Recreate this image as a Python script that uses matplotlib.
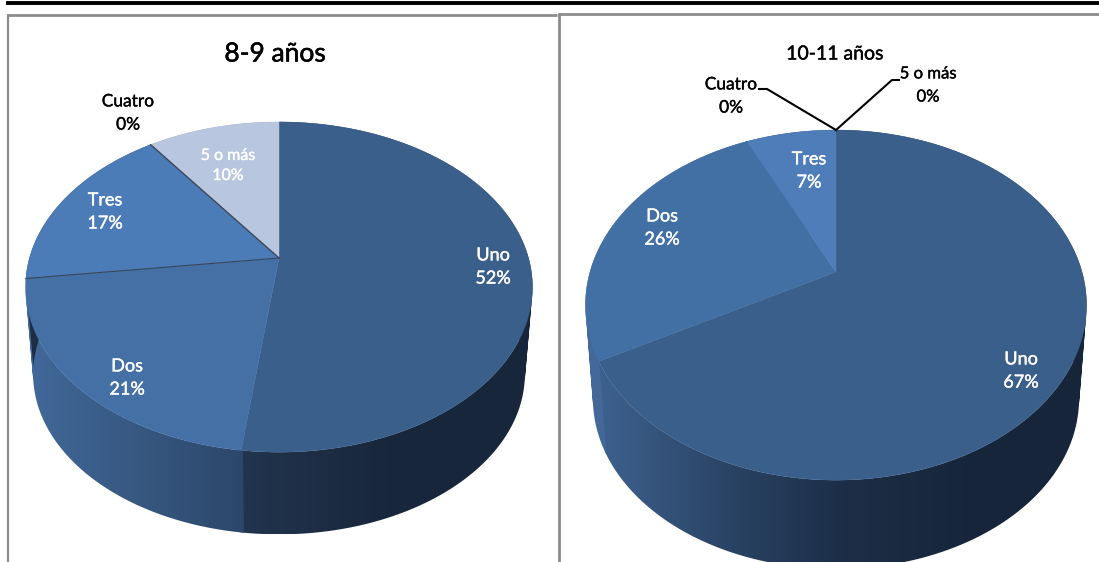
import numpy as np
import matplotlib
matplotlib.use("Agg")
import matplotlib.pyplot as plt
import matplotlib.patheffects as pe
from matplotlib.colors import LinearSegmentedColormap
from matplotlib.patches import Polygon, PathPatch
from matplotlib.path import Path

plt.rcParams['font.family'] = ['Lato', 'DejaVu Sans']

# Data
categories = ["Uno", "Dos", "Tres", "Cuatro", "5 o más"]
values_8_9 = [52, 21, 17, 0, 10]
values_10_11 = [67, 26, 7, 0, 0]
title_8_9 = "8-9 años"
title_10_11 = "10-11 años"

# Styles
top_colors_l = ["#3b5f8b", "#4470a6", "#4c7cb8", "#333333", "#b8c6df"]
top_colors_r = ["#3b5f8b", "#4270a5", "#4e7db9", "#333333", "#b8c6df"]
side_colors_l = [["#22344f", "#18273b", "#17263a"],
                 ["#41699a", "#2c4769"],
                 ["#1d2d44", "#1d2d44"],
                 ["#1d2d44", "#1d2d44"],
                 ["#8a97ad", "#8a97ad"]]
side_colors_r = [["#3d628f", "#2b4567", "#1c2e47", "#17263a", "#16253a"],
                 ["#44699a", "#3c6090"],
                 ["#1d2d44", "#1d2d44"],
                 ["#1d2d44", "#1d2d44"],
                 ["#8a97ad", "#8a97ad"]]

fig = plt.figure(figsize=(10.99, 5.62), dpi=100)
ax = fig.add_axes([0, 0, 1, 1])


def rim(theta, cx, cy, rx, ry, k, scale=1.0, dy=0.0):
    # perspective view of a circle, theta clockwise from the top
    w = 1 + k * np.cos(theta)
    x = cx + scale * rx * np.sin(theta) / w
    y = cy + dy - scale * ry * np.cos(theta) / w
    return np.column_stack([x, y])


def wall_path(upper, lower):
    # one quad per arc step, all wound the same way so the union fills solid
    quads = []
    for j in range(len(upper) - 1):
        q = np.array([upper[j], upper[j + 1], lower[j + 1], lower[j], upper[j]])
        area = np.sum(q[:-1, 0] * q[1:, 1] - q[1:, 0] * q[:-1, 1])
        if area < 0:
            q = q[::-1]
        quads.append(Path(q, closed=True))
    return Path.make_compound_path(*quads)


def draw_pie(values, cx, cy, rx, ry, k, dy, top_colors, side_colors, edges=()):
    fracs = np.array(values) / sum(values) * 2 * np.pi
    ends = np.cumsum(fracs)
    starts = ends - fracs
    # sides first, gradient running left to right
    for i in range(len(values)):
        if values[i] == 0:
            continue
        t = np.linspace(starts[i] - 0.006, ends[i] + 0.006, 200)
        upper = rim(t, cx, cy, rx, ry, k)
        lower = rim(t, cx, cy, rx, ry, k, 0.97, dy)
        pts = np.vstack([upper, lower])
        patch = PathPatch(wall_path(upper, lower), fc="none", ec="none")
        ax.add_patch(patch)
        cmap = LinearSegmentedColormap.from_list("side", side_colors[i])
        grad = np.linspace(0, 1, 256).reshape(1, -1)
        im = ax.imshow(grad, cmap=cmap, aspect="auto", zorder=2,
                       extent=[pts[:, 0].min(), pts[:, 0].max(),
                               pts[:, 1].max(), pts[:, 1].min()])
        im.set_clip_path(patch)
    # then the top face
    for i in range(len(values)):
        if values[i] == 0:
            continue
        t = np.linspace(starts[i], ends[i], 200)
        pts = np.vstack([[cx, cy], rim(t, cx, cy, rx, ry, k)])
        ax.add_patch(Polygon(pts, closed=True, fc=top_colors[i],
                             ec=top_colors[i], lw=0.3, zorder=3))
    for i, lw in edges:
        p = rim(np.array([ends[i]]), cx, cy, rx, ry, k)[0]
        ax.plot([cx, p[0]], [cy, p[1]], color="#3a4658", lw=lw, zorder=4)


draw_pie(values_8_9, 279, 258, 249.5, 160, 0.176, 88, top_colors_l, side_colors_l,
         edges=[(1, 0.8), (3, 1.0)])
draw_pie(values_10_11, 836, 272, 246, 168.8, 0.189, 95, top_colors_r, side_colors_r)

# Frames
gray = "#8c8c8c"
ax.plot([6, 1099], [2.5, 2.5], color="black", lw=2.8, zorder=5, solid_capstyle="butt")
ax.plot([8, 8], [562, 14], color=gray, lw=1.6, zorder=5, solid_capstyle="butt")
ax.plot([7, 557], [15, 15], color=gray, lw=2.0, zorder=5, solid_capstyle="butt")
ax.plot([559, 559], [562, 13], color=gray, lw=2.0, zorder=5, solid_capstyle="butt")
ax.plot([558, 1099], [13.5, 13.5], color=gray, lw=2.0, zorder=5, solid_capstyle="butt")


def thick(col, w=0.25):
    return [pe.withStroke(linewidth=w, foreground=col)]


# Titles
ax.text(275, 54, title_8_9, fontsize=19, ha="center", va="center", zorder=6,
        path_effects=thick("black", 0.4))
ax.text(835, 54, title_10_11, fontsize=14, ha="center", va="center", zorder=6,
        path_effects=thick("black", 0.3))

# Labels
label_pos_l = [(493, 267), (127, 378), (105, 212), (128, 113), (228, 166)]
label_col_l = ["white", "white", "white", "black", "white"]
label_size_l = [13, 13, 13, 12.5, 11.5]
label_pos_r = [(1021, 371), (662, 228), (809, 171), (731, 96), (928, 85)]
label_col_r = ["white", "white", "white", "black", "black"]
label_size_r = [13, 13, 13, 12.5, 12]

for name, val, pos, col, size in zip(categories, values_8_9, label_pos_l, label_col_l, label_size_l):
    ax.text(pos[0], pos[1], f"{name}\n{val}%", color=col, fontsize=size, ha="center",
            va="center", linespacing=1.55, zorder=6, path_effects=thick(col))
for name, val, pos, col, size in zip(categories, values_10_11, label_pos_r, label_col_r, label_size_r):
    ax.text(pos[0], pos[1], f"{name}\n{val}%", color=col, fontsize=size, ha="center",
            va="center", linespacing=1.55, zorder=6, path_effects=thick(col))

# Leader lines for the two empty slices
ax.plot([759, 767, 836], [89, 89, 130], color="black", lw=1.5, zorder=6)
ax.plot([836, 892, 899], [130, 80, 80], color="black", lw=1.5, zorder=6)

ax.set_xlim(0, 1099)
ax.set_ylim(562, 0)
ax.axis("off")
fig.savefig("out.png", dpi=100)
